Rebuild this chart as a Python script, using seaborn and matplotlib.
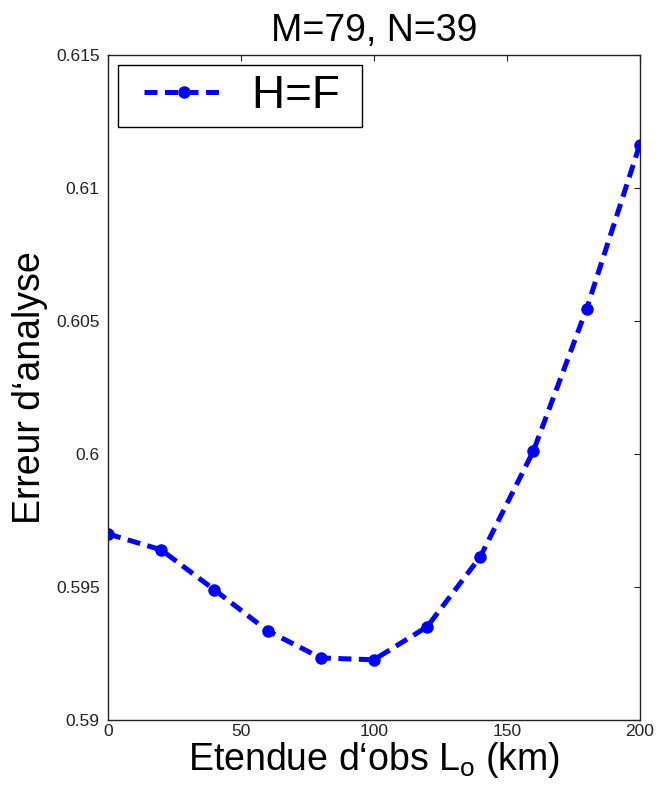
import numpy as np
import pandas as pd
import matplotlib
matplotlib.use('Agg')
import matplotlib.pyplot as plt
from matplotlib.legend_handler import HandlerLine2D
import seaborn as sns

# values
etendue = [0, 20, 40, 60, 80, 100, 120, 140, 160, 180, 200]
erreur = [0.59699, 0.59639, 0.59489, 0.59335, 0.59233, 0.59226,
          0.59350, 0.59613, 0.60011, 0.60545, 0.61162]
xticks = [0, 50, 100, 150, 200]
yticks = [0.59, 0.595, 0.6, 0.605, 0.61, 0.615]

df = pd.DataFrame({'L': etendue, 'err': erreur, 'serie': 'H=F'})

sns.set_style('white')
plt.rcParams['font.family'] = ['Liberation Sans', 'DejaVu Sans']
plt.rcParams['mathtext.fontset'] = 'custom'
plt.rcParams['mathtext.rm'] = 'Liberation Sans'
plt.rcParams['text.color'] = 'black'
plt.rcParams['axes.labelcolor'] = 'black'

fig = plt.figure(figsize=(6.63, 7.92), dpi=100)
ax = fig.add_axes([0.163, 0.091, 0.802, 0.84])

dash = (0, (2.6, 1.5))
sns.lineplot(data=df, x='L', y='err', hue='serie', palette=['#0000ff'],
             marker='o', markersize=9, markeredgewidth=0, linewidth=3.6,
             dashes=False, ax=ax)
ax.lines[0].set_linestyle(dash)

ax.set_xlim(0, 200)
ax.set_ylim(0.59, 0.615)
ax.set_xticks(xticks)
ax.set_yticks(yticks)
ax.set_xticklabels([f'{t:g}' for t in xticks])
ax.set_yticklabels([f'{t:g}' for t in yticks])
ax.tick_params(direction='in', length=4, width=0.8, labelsize=12.5,
               top=True, right=True, colors='#222222', pad=6)
ax.tick_params(axis='x', pad=3)
for s in ax.spines.values():
    s.set_color('#222222')
    s.set_linewidth(1)

ax.set_title('M=79, N=39', fontsize=27, pad=10)
ax.set_xlabel('Etendue d\u2018obs L$_\\mathrm{o}$ (km)', fontsize=27, labelpad=1)
ax.set_ylabel('Erreur d\u2018analyse', fontsize=27, labelpad=6)

handles, labels = ax.get_legend_handles_labels()
leg = ax.legend(handles, ['H=F '], loc='upper left', fontsize=33,
                handlelength=2.1, handletextpad=0.62,
                handler_map={handles[0]: HandlerLine2D(xpad=0.37)},
                fancybox=False, framealpha=1, edgecolor='black',
                borderpad=0.2, borderaxespad=0.22)
leg.get_frame().set_linewidth(1)
for h in leg.get_lines():
    h.set_linestyle(dash)
    h.set_linewidth(3.6)

plt.savefig('out.png', dpi=100)
